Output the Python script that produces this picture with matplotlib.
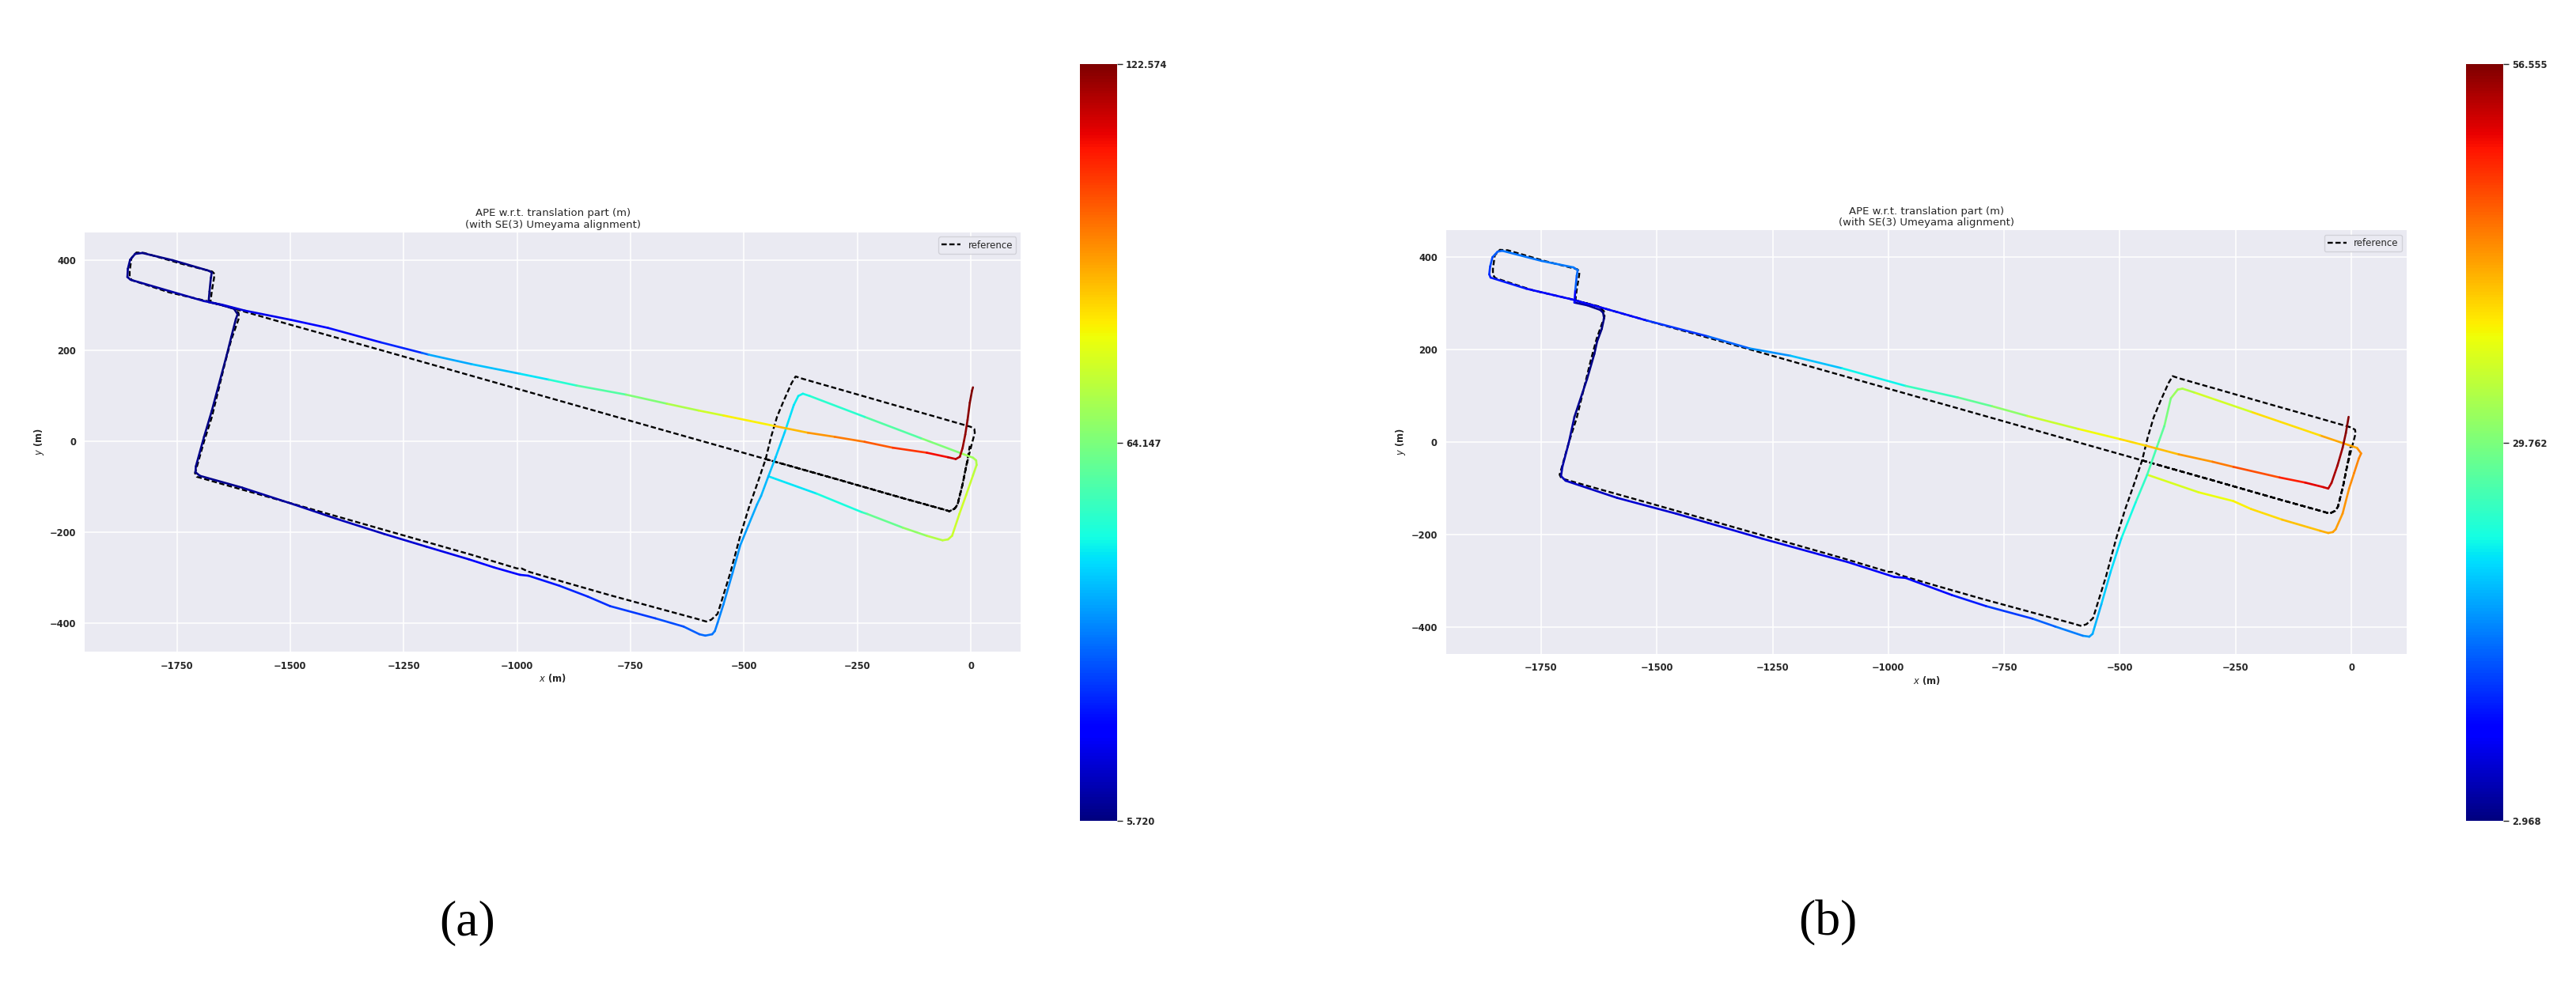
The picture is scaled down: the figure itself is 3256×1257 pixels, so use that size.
import matplotlib
matplotlib.use('Agg')
import matplotlib.pyplot as plt
import numpy as np
from matplotlib.collections import LineCollection
from matplotlib.colors import Normalize
from matplotlib.cm import ScalarMappable

ref_x = [-452, -300, -150, -60, -47, -35, -29, -18, -10, 0, 9, 8, 0, -80, -172, -280, -371, -386,
	-395, -412, -427, -440, -452, -470, -489, -508, -530, -558, -572, -583,
	-600, -670, -795, -900, -975, -990, -1000, -1100, -1300, -1500, -1650, -1706, -1710,
	-1707, -1690, -1673, -1643, -1630, -1613, -1614, -1626, -1650, -1676,
	-1673, -1668, -1667, -1672, -1739, -1822, -1839, -1850, -1854, -1854, -1849, -1766, -1679,
	-1500, -1300, -1000, -700, -452, -300, -150, -60, -47, -35, -29, -18, -8, -2]
ref_y = [-39, -82, -125, -150, -154, -148, -139, -95, -55, -15, 19, 27, 32, 55, 81, 112, 138, 143,
	128, 90, 54, 10, -39, -92, -146, -208, -290, -380, -393, -397,
	-392, -373, -339, -309, -287, -280, -280, -250, -193, -136, -94, -78, -70,
	-60, 0, 53, 176, 224, 272, 283, 294, 300, 306,
	330, 360, 369, 374, 391, 415, 416, 404, 375, 362, 355, 328, 308,
	257, 201, 116, 31, -39, -82, -125, -150, -154, -148, -139, -95, -45, -10]

# estimate (a) and its APE along the path
est_a_x = [-446, -340, -240, -228, -150, -97, -62, -50, -41, -25, -10, 5, 13, 12, 5, -22, -110, -234, -355, -370,
	-380, -390, -410, -430, -446, -462, -471, -490, -508, -525, -545, -558, -564, -570, -585, -598,
	-633, -695, -795, -844, -907, -975, -994, -1050, -1106, -1200, -1293, -1400, -1492, -1606, -1699, -1709,
	-1708, -1690, -1673, -1640, -1630, -1620, -1616, -1624, -1650, -1680,
	-1678, -1675, -1673, -1680, -1759, -1826, -1842, -1853, -1858, -1859, -1852, -1766, -1690,
	-1650, -1600, -1500, -1417, -1300, -1210, -1195, -1100, -994, -930, -869, -760, -670, -600, -545,
	-433, -359, -300, -234, -172, -97, -50, -33, -24, -18, -12, -7, -2, 3, 5]
est_a_y = [-77, -115, -156, -160, -190, -208, -218, -216, -208, -160, -118, -75, -52, -42, -36, -26, 7, 54, 100, 105,
	100, 80, 20, -35, -77, -120, -139, -185, -229, -290, -359, -400, -418, -425, -428, -425,
	-408, -390, -363, -342, -318, -296, -294, -278, -260, -232, -204, -170, -139, -102, -76, -68,
	-55, 10, 67, 190, 230, 269, 280, 292, 300, 307,
	330, 360, 372, 376, 399, 415, 413, 400, 380, 362, 356, 331, 309,
	301, 288, 268, 250, 218, 195, 191, 170, 149, 136, 123, 103, 83, 68, 57,
	34, 19, 10, -1, -14, -25, -35, -39, -34, -15, 15, 47, 85, 112, 119]
err_a = [45, 48, 52, 58, 64, 70, 73, 74, 75, 76, 76, 74, 72, 71, 70, 68, 62, 55, 50, 49,
	48, 47, 45, 43, 42, 41, 40, 39, 38, 37, 36, 35, 34.5, 34, 33, 32,
	30, 28, 26, 25, 24, 22, 21, 19.5, 18, 15, 13, 11, 10, 8, 7, 7,
	7, 6.5, 6.2, 5.9, 5.8, 5.72, 5.8, 6, 6, 6,
	6, 6.2, 6.3, 6.5, 6.8, 7, 7.2, 7.3, 7.5, 7.8, 8, 9, 11,
	14, 16, 18, 20, 23, 26, 38, 41, 44, 49, 55, 62, 68, 74, 78,
	86, 92, 95, 99, 103, 108, 113, 116, 118, 119.5, 120.5, 121.3, 122, 122.4, 122.574]

# estimate (b) and its APE along the path
est_b_x = [-441, -330, -255, -217, -150, -68, -50, -40, -34, -19, -5, 6, 16, 21, 12, -68, -217, -340, -365, -375,
	-390, -404, -420, -441, -466, -497, -520, -540, -559, -566, -580,
	-640, -689, -789, -863, -963, -987, -1087, -1150, -1273, -1390, -1459, -1586, -1697, -1707,
	-1704, -1690, -1678, -1651, -1635, -1629, -1619, -1614, -1616, -1622, -1650, -1678,
	-1676, -1673, -1671, -1680, -1749, -1834, -1844, -1855, -1860, -1862, -1859, -1782, -1684,
	-1612, -1521, -1390, -1300, -1211, -1100, -963, -850, -776, -700, -590, -500, -441, -373, -300,
	-255, -155, -100, -60, -50, -43, -30, -19, -12, -6]
est_b_y = [-70, -108, -127, -144, -167, -191, -196, -194, -188, -154, -100, -66, -35, -24, -12, 15, 66, 108, 116, 114,
	95, 35, -10, -70, -130, -208, -280, -350, -414, -420, -418,
	-398, -381, -354, -330, -293, -291, -259, -242, -208, -174, -154, -120, -83, -73,
	-53, 0, 55, 136, 191, 218, 245, 268, 280, 286, 296, 302,
	330, 360, 372, 378, 392, 414, 412, 400, 380, 363, 356, 332, 309,
	289, 263, 229, 203, 187, 160, 122, 97, 78, 57, 29, 7, -8, -26, -42,
	-53, -76, -87, -97, -100, -88, -50, -12, 20, 55]
err_b = [35, 36.5, 37.5, 38.5, 40, 41.5, 42, 42.5, 42.8, 43, 43.5, 44, 44, 44, 43.5, 41, 37, 33.5, 33, 32.5,
	31, 28.5, 27, 25.5, 24, 22, 21, 20, 18.5, 18, 17,
	15.5, 14, 11.5, 10.5, 9.5, 9, 8.5, 8.2, 7.8, 7.3, 7, 6.5, 6, 5.5,
	5, 4.5, 4, 3.5, 3.2, 3.0, 2.968, 3.0, 3.2, 3.5, 4, 5,
	14, 15, 15.5, 16, 16, 15.5, 15, 14, 13, 12, 11.5, 10.5, 9.5,
	9.5, 11, 14, 16, 18.5, 21, 24, 27, 29, 33, 36.5, 38.5, 40, 42, 44,
	45.5, 49, 51, 52.5, 53, 54, 55, 55.5, 56, 56.555]

cbar_ticks_a = [5.720, 64.147, 122.574]
cbar_ticks_b = [2.968, 29.762, 56.555]
x_ticks = [-1750, -1500, -1250, -1000, -750, -500, -250, 0]
y_ticks = [-400, -200, 0, 200, 400]
title = 'APE w.r.t. translation part (m)\n(with SE(3) Umeyama alignment)'
panel_labels = ['(a)', '(b)']

TEXT = '#262626'
plt.rcParams['font.family'] = ['DejaVu Sans']


def drawTrajectory(ax, cax, est_x, est_y, err, cbar_ticks, xlim, ylim):
	ax.set_facecolor('#EAEAF2')
	for s in ax.spines.values():
		s.set_visible(False)
	ax.grid(True, color='white', linewidth=1.1)
	ax.set_axisbelow(True)

	ax.plot(ref_x, ref_y, color='black', linestyle='--', dashes=(2.8, 1.4), lw=1.7,
		label='reference', zorder=2)

	pts = np.column_stack([est_x, est_y])
	segs = np.stack([pts[:-1], pts[1:]], axis=1)
	err = np.asarray(err, dtype=float)
	norm = Normalize(cbar_ticks[0], cbar_ticks[-1])
	lc = LineCollection(segs, cmap='jet', norm=norm, linewidths=1.9, zorder=3,
		capstyle='round', joinstyle='round')
	lc.set_array((err[:-1] + err[1:]) / 2)
	ax.add_collection(lc)

	ax.set_xlim(*xlim)
	ax.set_ylim(*ylim)
	ax.set_xticks(x_ticks)
	ax.set_yticks(y_ticks)
	ax.tick_params(length=0, pad=8, labelsize=8.3, labelcolor=TEXT)
	for lab in ax.get_xticklabels() + ax.get_yticklabels():
		lab.set_fontweight('bold')
	ax.set_xlabel('$x$ (m)', fontsize=8.3, fontweight='bold', color=TEXT, labelpad=1)
	ax.set_ylabel('$y$ (m)', fontsize=8.3, fontweight='bold', color=TEXT, labelpad=3)
	ax.set_title(title, fontsize=9.5, color=TEXT, pad=4, linespacing=1.15)

	leg = ax.legend(loc='upper right', fontsize=8.5, frameon=True, borderpad=0.35,
		facecolor='#EAEAF2', edgecolor='#cfcfd6', framealpha=0.9)
	for t in leg.get_texts():
		t.set_color(TEXT)

	sm = ScalarMappable(norm=norm, cmap='jet')
	cbar = plt.colorbar(sm, cax=cax, ticks=cbar_ticks)
	cbar.outline.set_visible(False)
	cbar.ax.set_yticklabels(['%.3f' % t for t in cbar_ticks])
	cbar.ax.tick_params(length=5, width=1, color=TEXT, pad=3, labelsize=8.3, labelcolor=TEXT)
	for lab in cbar.ax.get_yticklabels():
		lab.set_fontweight('bold')


if __name__ == '__main__':
	fig = plt.figure(figsize=(32.56, 12.57), dpi=100)

	ax_a = fig.add_axes([0.0329, 0.3441, 0.3633, 0.4224])
	cax_a = fig.add_axes([0.4192, 0.1742, 0.01443, 0.7613])
	drawTrajectory(ax_a, cax_a, est_a_x, est_a_y, err_a, cbar_ticks_a, (-1953, 110), (-464, 461))

	ax_b = fig.add_axes([0.5614, 0.3418, 0.3728, 0.4269])
	cax_b = fig.add_axes([0.9573, 0.1742, 0.01443, 0.7613])
	drawTrajectory(ax_b, cax_b, est_b_x, est_b_y, err_b, cbar_ticks_b, (-1955, 119), (-458, 459))

	fig.text(0.1815, 0.0716, panel_labels[0], fontsize=46, family='Liberation Serif',
		ha='center', va='center')
	fig.text(0.7095, 0.0716, panel_labels[1], fontsize=46, family='Liberation Serif',
		ha='center', va='center')

	fig.savefig('out.png', dpi=100)
